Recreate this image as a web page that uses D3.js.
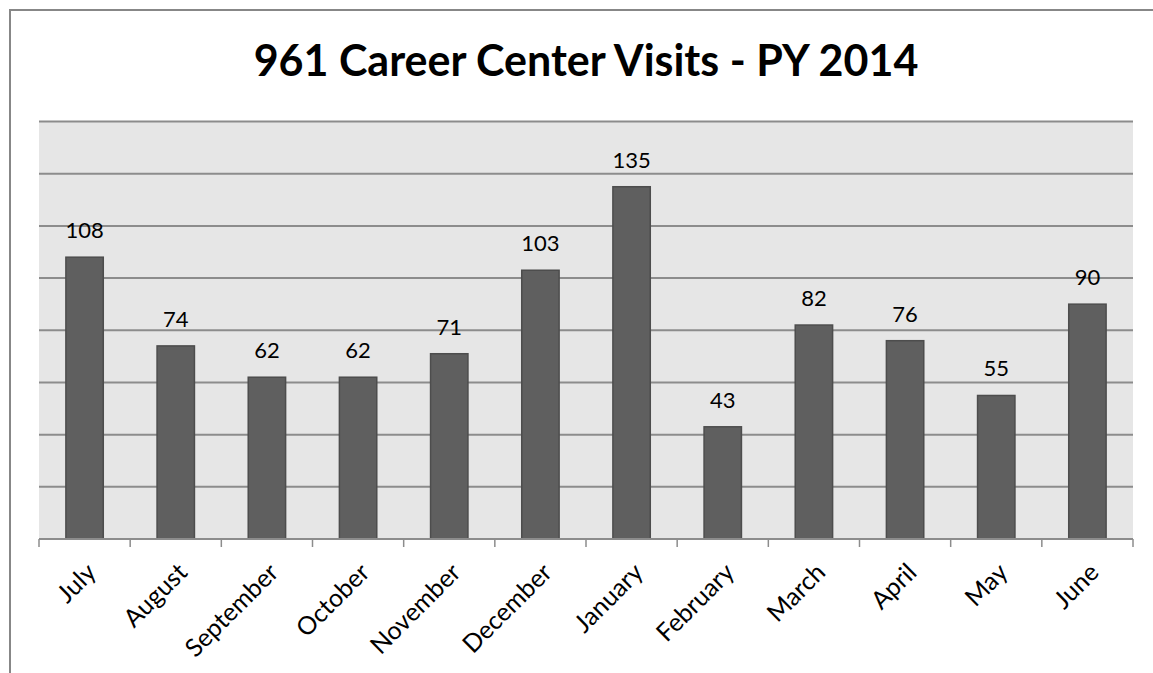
<!DOCTYPE html>
<html><head><meta charset="utf-8">
<script src="https://cdnjs.cloudflare.com/ajax/libs/d3/7.8.5/d3.min.js"></script>
<style>body{margin:0;background:#fff}svg{display:block}</style>
</head><body><svg id="c" width="1153" height="673"></svg>
<script>
const months = ["July","August","September","October","November","December","January","February","March","April","May","June"];
const visits = [108,74,62,62,71,103,135,43,82,76,55,90];
const yTicks = [0,20,40,60,80,100,120,140,160];
const title = "961 Career Center Visits - PY 2014";

const svg = d3.select("#c");
const font = "Lato, 'Open Sans', sans-serif";
// outer frame
svg.append("path").attr("d","M10,673 V10 H1153").attr("fill","none").attr("stroke","#878787").attr("stroke-width",2);

const L=39,R=1133,T=121.5,B=539;
const x = d3.scaleBand().domain(months).range([L,R]).paddingInner(0.59).paddingOuter(0.295);
const y = d3.scaleLinear().domain([0,160]).range([B,T]);

svg.append("rect").attr("x",L).attr("y",T).attr("width",R-L).attr("height",B-T).attr("fill","#e6e6e6");
svg.append("g").selectAll("line").data(yTicks).join("line")
  .attr("x1",L).attr("x2",R).attr("y1",d=>y(d)).attr("y2",d=>y(d))
  .attr("stroke","#8c8c8c").attr("stroke-width",2);

svg.append("g").selectAll("rect").data(visits).join("rect")
  .attr("x",(d,i)=>x(months[i])).attr("width",x.bandwidth())
  .attr("y",d=>y(d)).attr("height",d=>B-y(d))
  .attr("fill","#5f5f5f").attr("stroke","#4d4d4d").attr("stroke-width",1.5);

svg.append("g").selectAll("text").data(visits).join("text")
  .attr("x",(d,i)=>x(months[i])+x.bandwidth()/2).attr("y",d=>y(d)-19)
  .attr("text-anchor","middle").attr("font-family",font).attr("font-size",22).attr("fill","#000")
  .text(d=>d);

// x axis ticks
const tickPos = d3.range(months.length+1).map(i=>L+i*(R-L)/months.length);
svg.append("g").selectAll("line").data(tickPos).join("line")
  .attr("x1",d=>d).attr("x2",d=>d).attr("y1",B).attr("y2",B+8)
  .attr("stroke","#8c8c8c").attr("stroke-width",1.5);
svg.append("line").attr("x1",L).attr("x2",R).attr("y1",B).attr("y2",B).attr("stroke","#8c8c8c").attr("stroke-width",2);

svg.append("g").selectAll("text").data(months).join("text")
  .attr("transform",d=>`translate(${x(d)+x.bandwidth()/2+13},${B+35}) rotate(-45)`)
  .attr("text-anchor","end").attr("font-family",font).attr("font-size",25).attr("fill","#000")
  .text(d=>d);

svg.append("text").attr("x",586).attr("y",76).attr("text-anchor","middle")
  .attr("font-family",font).attr("font-weight","bold").attr("font-size",43).attr("fill","#000").text(title);
</script></body></html>
